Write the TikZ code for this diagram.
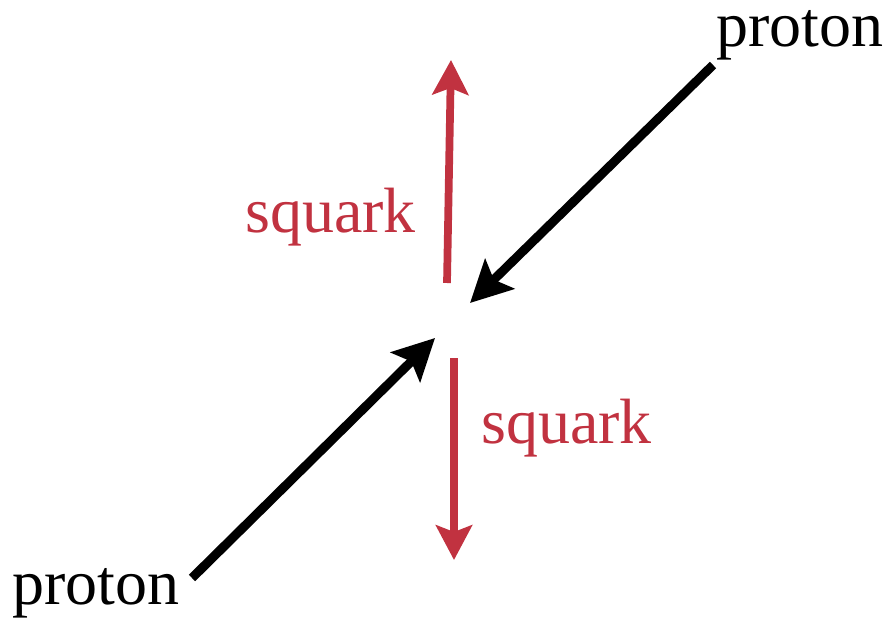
\documentclass[tikz,border=0pt]{standalone}
\usepackage{fontspec}
\setmainfont{Liberation Serif}
\usetikzlibrary{arrows.meta}
\definecolor{sqred}{RGB}{193,50,64}
\tikzset{
  redarrow/.style={draw=sqred, line width=5.8pt, -{Stealth[length=26pt,width=27pt,inset=5pt]}},
  blackarrow/.style={draw=black, line width=6.8pt, -{Stealth[length=31pt,width=31pt,inset=6pt]}},
  lbl/.style={inner sep=0pt, anchor=base west, font=\fontsize{48}{56}\selectfont},
}
\begin{document}
\begin{tikzpicture}[x=0.75pt,y=-0.75pt]
\useasboundingbox (0,0) rectangle (892,620);
\coordinate (sqAs) at (447,283);
\coordinate (sqAe) at (451,60);
\coordinate (sqBs) at (454,358);
\coordinate (sqBe) at (454,560);
\coordinate (pAs) at (713,65);
\coordinate (pAe) at (470,303);
\coordinate (pBs) at (192,578);
\coordinate (pBe) at (435,338);
\draw[redarrow] (sqAs) -- (sqAe);
\draw[redarrow] (sqBs) -- (sqBe);
\draw[blackarrow] (pAs) -- (pAe);
\draw[blackarrow] (pBs) -- (pBe);
\node[lbl] (protA) at (716,47) {proton};
\node[lbl] (protB) at (12,604) {proton};
\node[lbl, text=sqred] (sqA) at (245,233) {squark};
\node[lbl, text=sqred] (sqB) at (481,443) {squark};
\end{tikzpicture}
\end{document}
